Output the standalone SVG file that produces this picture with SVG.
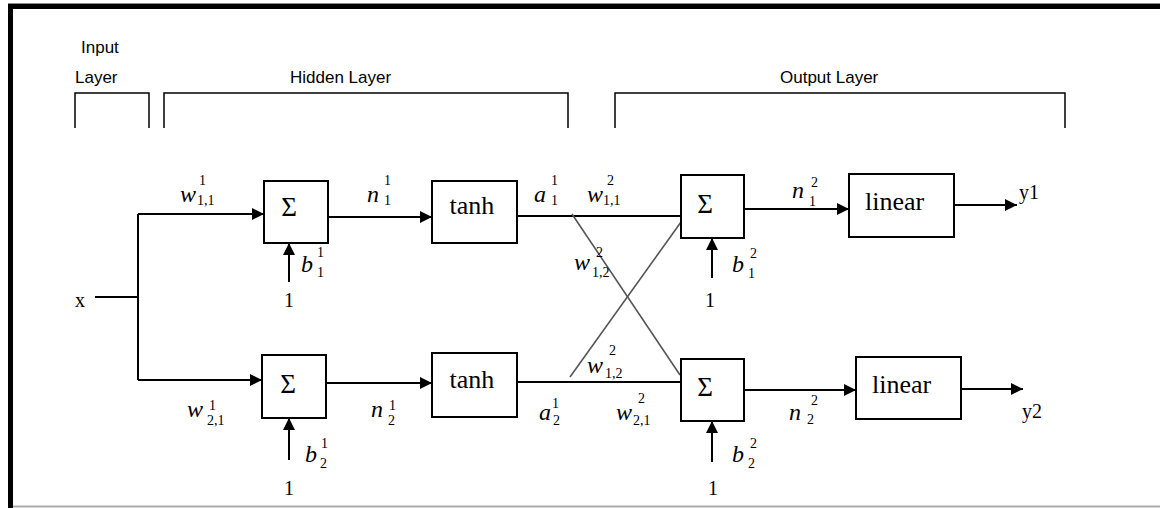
<svg xmlns="http://www.w3.org/2000/svg" width="1160" height="508" viewBox="0 0 1160 508">
<defs>
<marker id="ah" viewBox="0 0 12 12" refX="12" refY="6" markerWidth="12" markerHeight="12" markerUnits="userSpaceOnUse" orient="auto">
<path d="M0,0 L12,6 L0,12 z" fill="#000"/>
</marker>
<style>
.box{fill:#fff;stroke:#000;stroke-width:2}
.ln{fill:none;stroke:#000;stroke-width:2}
.arr{fill:none;stroke:#000;stroke-width:2;marker-end:url(#ah)}
.diag{fill:none;stroke:#555;stroke-width:1.6}
.brk{fill:none;stroke:#000;stroke-width:1.5}
.lay{font-family:"Liberation Sans",Arial,sans-serif;font-size:17px;fill:#000}
.fn{font-family:"Liberation Serif","Times New Roman",serif;font-size:26px;fill:#000}
.sig{font-family:"Liberation Serif","Times New Roman",serif;font-size:27px;fill:#000;text-anchor:middle}
.num{font-family:"Liberation Serif","Times New Roman",serif;font-size:20px;fill:#000}
.mi{font-family:"Liberation Serif","Times New Roman",serif;font-style:italic;font-size:24px;fill:#000}
.sc{font-family:"Liberation Serif","Times New Roman",serif;font-size:14px;fill:#000}
</style>
</defs>
<rect x="0" y="0" width="1160" height="508" fill="#fff"/>
<g id="frame">
<rect x="8" y="3" width="1152" height="1" fill="#888"/>
<rect x="8" y="4" width="1152" height="5" fill="#000"/>
<rect x="8" y="4" width="5" height="504" fill="#000"/>
<line x1="13" y1="506.5" x2="1160" y2="506.5" stroke="#aaa" stroke-width="2"/>
</g>
<g id="layer-labels">
<text class="lay" x="81" y="53">Input</text>
<text class="lay" x="75" y="83">Layer</text>
<text class="lay" x="290" y="83">Hidden Layer</text>
<text class="lay" x="780" y="83">Output Layer</text>
<path class="brk" d="M75,128 V93 H149 V128"/>
<path class="brk" d="M164,128 V93 H568 V128"/>
<path class="brk" d="M615,128 V93 H1065 V128"/>
</g>
<g id="connectors">
<line class="ln" x1="95" y1="297" x2="138" y2="297"/>
<line class="ln" x1="138" y1="214" x2="138" y2="380"/>
<line class="arr" x1="138" y1="214" x2="264" y2="214"/>
<line class="arr" x1="138" y1="380" x2="262" y2="380"/>
<line class="arr" x1="328" y1="217" x2="432" y2="217"/>
<line class="arr" x1="326" y1="383" x2="432" y2="383"/>
<line class="ln" x1="517" y1="216" x2="681" y2="216"/>
<line class="ln" x1="517" y1="382" x2="681" y2="382"/>
<line class="diag" x1="572" y1="214" x2="680" y2="375"/>
<line class="diag" x1="570" y1="377" x2="681" y2="222"/>
<line class="arr" x1="744" y1="209" x2="849" y2="209"/>
<line class="arr" x1="744" y1="390" x2="856" y2="390"/>
<line class="arr" x1="954" y1="205" x2="1017" y2="205"/>
<line class="arr" x1="961" y1="389" x2="1023" y2="389"/>
<line class="arr" x1="289" y1="282" x2="289" y2="243"/>
<line class="arr" x1="712" y1="278" x2="712" y2="238"/>
<line class="arr" x1="289" y1="460" x2="289" y2="418"/>
<line class="arr" x1="712" y1="462" x2="712" y2="421"/>
</g>
<g id="input-x"><text class="num" x="75" y="307">x</text></g>
<g id="sum11"><rect class="box" x="264" y="181" width="64" height="62"/><text class="sig" x="289" y="216">Σ</text></g>
<g id="sum12"><rect class="box" x="262" y="355" width="64" height="63"/><text class="sig" x="288" y="393">Σ</text></g>
<g id="tanh1"><rect class="box" x="432" y="181" width="85" height="62"/><text class="fn" x="472" y="214" text-anchor="middle">tanh</text></g>
<g id="tanh2"><rect class="box" x="432" y="353" width="85" height="64"/><text class="fn" x="472" y="388" text-anchor="middle">tanh</text></g>
<g id="sum21"><rect class="box" x="681" y="175" width="63" height="63"/><text class="sig" x="705" y="213">Σ</text></g>
<g id="sum22"><rect class="box" x="681" y="359" width="63" height="62"/><text class="sig" x="705" y="396">Σ</text></g>
<g id="linear1"><rect class="box" x="849" y="174" width="105" height="63"/><text class="fn" x="865" y="210">linear</text></g>
<g id="linear2"><rect class="box" x="856" y="357" width="105" height="62"/><text class="fn" x="872" y="393">linear</text></g>
<g id="bias-ones">
<text class="num" x="289" y="307" text-anchor="middle">1</text>
<text class="num" x="710" y="307" text-anchor="middle">1</text>
<text class="num" x="289" y="495" text-anchor="middle">1</text>
<text class="num" x="713" y="495" text-anchor="middle">1</text>
</g>
<g id="outputs">
<text class="num" x="1019" y="199">y1</text>
<text class="num" x="1022" y="418">y2</text>
</g>
<g id="labels">
<text class="mi" x="180" y="202">w</text><text class="sc" x="199" y="185">1</text><text class="sc" x="197" y="205">1,1</text>
<text class="mi" x="367" y="202">n</text><text class="sc" x="384" y="185">1</text><text class="sc" x="384" y="205">1</text>
<text class="mi" x="301" y="272">b</text><text class="sc" x="317" y="257">1</text><text class="sc" x="317" y="277">1</text>
<text class="mi" x="534" y="202">a</text><text class="sc" x="551" y="185">1</text><text class="sc" x="551" y="205">1</text>
<text class="mi" x="587" y="202">w</text><text class="sc" x="607" y="185">2</text><text class="sc" x="603" y="205">1,1</text>
<text class="mi" x="574" y="270">w</text><text class="sc" x="596" y="257">2</text><text class="sc" x="592" y="277">1,2</text>
<text class="mi" x="732" y="272">b</text><text class="sc" x="750" y="258">2</text><text class="sc" x="748" y="278">1</text>
<text class="mi" x="792" y="198">n</text><text class="sc" x="811" y="187">2</text><text class="sc" x="809" y="206">1</text>
<text class="mi" x="187" y="417">w</text><text class="sc" x="209" y="410">1</text><text class="sc" x="207" y="425">2,1</text>
<text class="mi" x="371" y="417">n</text><text class="sc" x="389" y="410">1</text><text class="sc" x="388" y="425">2</text>
<text class="mi" x="305" y="462">b</text><text class="sc" x="321" y="448">1</text><text class="sc" x="320" y="468">2</text>
<text class="mi" x="587" y="373">w</text><text class="sc" x="609" y="355">2</text><text class="sc" x="605" y="378">1,2</text>
<text class="mi" x="539" y="420">a</text><text class="sc" x="552" y="408">1</text><text class="sc" x="553" y="425">2</text>
<text class="mi" x="616" y="420">w</text><text class="sc" x="638" y="403">2</text><text class="sc" x="633" y="425">2,1</text>
<text class="mi" x="732" y="462">b</text><text class="sc" x="750" y="448">2</text><text class="sc" x="748" y="468">2</text>
<text class="mi" x="789" y="420">n</text><text class="sc" x="811" y="405">2</text><text class="sc" x="807" y="424">2</text>
</g>
</svg>
